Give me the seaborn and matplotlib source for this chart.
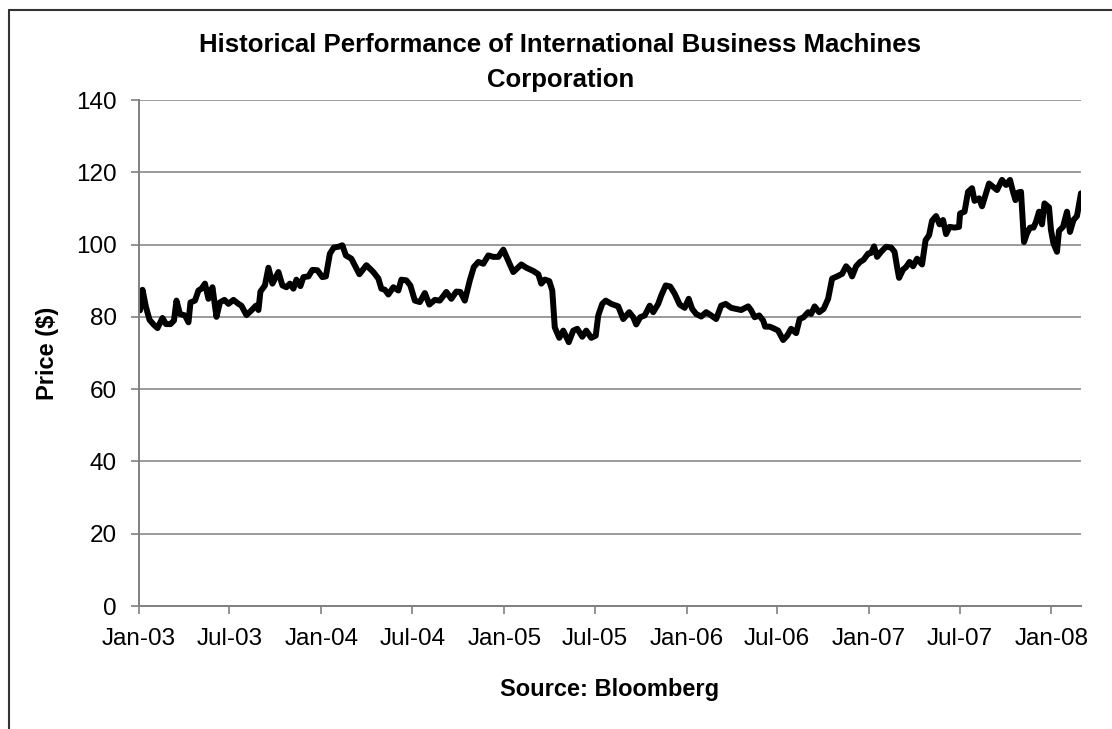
import pandas as pd
import seaborn as sns
import matplotlib.pyplot as plt
import matplotlib.dates as mdates
from matplotlib.lines import Line2D

# IBM price: days since 2003-01-01 and close in $
start_date = "2003-01-01"
day_offsets = [
    2, 7, 14, 21, 29, 37, 47, 54, 63, 70, 75, 82, 92, 99, 103, 112, 119, 125,
    132, 139, 147, 155, 162, 171, 179, 189, 199, 205, 215, 225, 234, 239, 243,
    252, 259, 267, 279, 287, 295, 302, 309, 315, 323, 329, 339, 347, 357, 367,
    374, 382, 390, 399, 407, 414, 425, 441, 455, 469,
    479, 485, 492, 499, 509, 519, 525, 535, 543, 552, 562, 572, 581, 592, 602,
    615, 625, 635, 643, 652, 662, 670, 679, 689, 699, 709, 719, 729, 737, 749,
    765, 775, 789, 799, 805, 812, 821, 827, 832, 841, 849, 860, 869, 877, 887,
    895, 905, 914, 919, 927, 934, 945,
    959, 969, 981, 989, 995, 1003, 1012, 1022, 1029, 1039, 1045, 1054, 1063,
    1072, 1082, 1092, 1100, 1107, 1115, 1125, 1135, 1145, 1155, 1165, 1174,
    1185, 1195, 1205, 1219, 1225, 1232, 1241, 1249, 1253, 1262, 1272, 1279,
    1289, 1297, 1305, 1315, 1322, 1330, 1339, 1345, 1352, 1361, 1370, 1379,
    1387, 1397, 1407, 1415, 1422,
    1427, 1435, 1443, 1450, 1459, 1465, 1471, 1477, 1485, 1495, 1505, 1512,
    1517, 1521, 1529, 1535, 1542, 1549, 1557, 1567, 1574, 1581, 1587, 1595,
    1602, 1609, 1615, 1622, 1632, 1641, 1643, 1652, 1659, 1667, 1672, 1681,
    1687, 1695, 1701, 1709, 1717, 1727, 1735, 1743, 1749, 1754, 1759, 1765,
    1771, 1777, 1783, 1790, 1795, 1801, 1807, 1812, 1821, 1825, 1830, 1837,
    1841, 1849, 1857, 1863, 1870, 1877, 1885,
]
prices = [
    81.8, 87.5, 82.7, 79.2, 77.9, 76.9, 79.7, 78.0, 78.0, 79.0, 84.5, 80.8,
    80.4, 78.5, 84.0, 84.5, 87.3, 87.8, 89.2, 85.0, 88.2, 80.0, 84.0, 84.7,
    83.6, 84.7, 83.6, 83.1, 80.5, 81.8, 83.1, 81.9, 87.0, 88.7, 93.6, 89.2,
    92.4, 88.7, 88.2, 89.2, 87.8, 90.3, 88.5, 91.0, 91.2, 93.0, 92.9, 91.0,
    91.2, 97.5, 99.2, 99.4, 99.8, 97.0, 96.1, 91.8, 94.3, 92.4,
    90.6, 87.8, 87.5, 86.2, 88.2, 87.3, 90.3, 90.1, 88.7, 84.5, 84.1, 86.6,
    83.4, 84.7, 84.5, 86.9, 85.0, 87.0, 86.9, 84.5, 90.1, 93.8, 95.2, 94.7,
    97.0, 96.6, 96.6, 98.6, 96.1, 92.4, 94.5, 93.6, 92.7, 91.8, 89.2, 90.3,
    89.9, 87.3, 77.1, 74.2, 76.2, 73.0, 76.2, 76.7, 74.5, 76.2, 74.2, 74.8,
    80.4, 83.6, 84.5, 83.6,
    82.9, 79.4, 81.3, 79.9, 77.9, 79.9, 80.4, 83.1, 81.3, 83.6, 85.9, 88.7,
    88.4, 86.4, 83.4, 82.5, 85.0, 82.2, 80.8, 80.1, 81.3, 80.4, 79.4, 83.1,
    83.6, 82.5, 82.2, 81.9, 82.9, 81.8, 79.9, 80.4, 79.0, 77.3, 77.3, 76.7,
    76.2, 73.6, 74.8, 76.7, 75.5, 79.4, 79.9, 81.3, 80.8, 82.9, 81.3, 82.2,
    85.0, 90.6, 91.2, 91.9, 94.0, 92.9,
    91.2, 94.0, 95.2, 95.8, 97.5, 97.7, 99.5, 96.6, 98.0, 99.4, 99.2, 98.0,
    93.8, 90.8, 93.1, 93.8, 95.2, 94.0, 96.1, 94.5, 101.2, 102.6, 106.6, 107.9,
    105.6, 106.8, 102.9, 104.9, 104.7, 104.9, 108.6, 109.1, 114.6, 115.6, 112.1,
    112.8, 110.6, 114.2, 116.9, 116.0, 115.1, 117.9, 116.5, 117.9, 114.6, 112.3,
    114.4, 114.6, 100.7, 103.1, 104.7, 104.7, 106.3, 109.1, 105.6, 111.4, 110.3,
    104.0, 100.3, 98.0, 103.8, 104.9, 109.1, 103.5, 106.8, 107.9, 114.2,
]
y_ticks = [0, 20, 40, 60, 80, 100, 120, 140]
title_lines = ["Historical Performance of International Business Machines",
               "Corporation"]

df = pd.DataFrame({
    "date": pd.Timestamp(start_date) + pd.to_timedelta(day_offsets, unit="D"),
    "price": prices,
})

sns.set_style("white")
plt.rcParams["font.family"] = ["Liberation Sans", "DejaVu Sans"]
plt.rcParams["text.color"] = "black"
plt.rcParams["axes.labelcolor"] = "black"
plt.rcParams["xtick.color"] = "black"
plt.rcParams["ytick.color"] = "black"

fig = plt.figure(figsize=(11.12, 7.29), dpi=100)
ax = fig.add_axes([0.125, 0.1687, 0.8471, 0.6941])

sns.lineplot(data=df, x="date", y="price", ax=ax, color="black", linewidth=4.3)

ax.set_ylim(0, 140)
ax.set_yticks(y_ticks)
ax.set_xlim(pd.Timestamp(start_date), df["date"].iloc[-1])
ax.xaxis.set_major_locator(mdates.MonthLocator(bymonth=[1, 7]))
ax.xaxis.set_major_formatter(mdates.DateFormatter("%b-%y"))

ax.grid(axis="y", color="#808080", linewidth=1.1)
ax.grid(axis="x", visible=False)
for side in ["top", "right"]:
    ax.spines[side].set_visible(False)
for side in ["left", "bottom"]:
    ax.spines[side].set_color("#808080")
    ax.spines[side].set_linewidth(1.4)

ax.tick_params(axis="y", direction="out", length=6, width=1.2, color="#808080",
               labelcolor="black", labelsize=17.5, pad=10, left=True)
ax.tick_params(axis="x", direction="out", length=6, width=1.2, color="#808080",
               labelcolor="black", labelsize=17.5, pad=10, bottom=True)

ax.set_ylabel("Price ($)", fontsize=17, fontweight="bold", labelpad=12)
ax.set_xlabel("Source: Bloomberg", fontsize=17, fontweight="bold", labelpad=20)

fig.text(0.504, 1 - 45 / 729, title_lines[0], ha="center", va="center",
         fontsize=18.5, fontweight="bold")
fig.text(0.504, 1 - 80 / 729, title_lines[1], ha="center", va="center",
         fontsize=18.5, fontweight="bold")

# outer chart frame (top and left edges only)
fig.add_artist(Line2D([0.008, 1.0], [0.986, 0.986], transform=fig.transFigure,
                      color="#333333", linewidth=1.5))
fig.add_artist(Line2D([0.008, 0.008], [0.0, 0.986], transform=fig.transFigure,
                      color="#333333", linewidth=1.5))

fig.savefig("out.png", dpi=100)
